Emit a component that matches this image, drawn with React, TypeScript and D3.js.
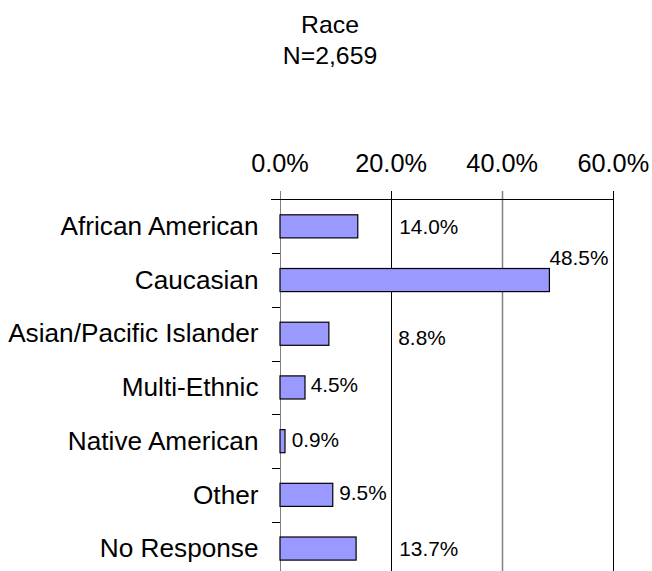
import React from "react";
import * as d3 from "d3";

const categories = [
  "African American",
  "Caucasian",
  "Asian/Pacific Islander",
  "Multi-Ethnic",
  "Native American",
  "Other",
  "No Response",
];
const values = [14.0, 48.5, 8.8, 4.5, 0.9, 9.5, 13.7];
const tickValues = [0, 20, 40, 60];
const titleLines = ["Race", "N=2,659"];

// label placement (px offset from bar end, baseline offset from band centre)
const labelDx = [41.5, 0, 69.4, 5.7, 6.7, 6.5, 43.2];
const labelDy = [7.7, -15.5, 11.3, 4.9, 6.2, 5.2, 7.5];

const W = 652;
const H = 571;
const FONT = "'Liberation Sans', Arial, Helvetica, sans-serif";

export default function App() {
  const x = d3.scaleLinear().domain([0, 60]).range([280, 613.3]);
  const y = d3
    .scaleBand<string>()
    .domain(categories)
    .range([199.5, 575.4])
    .paddingInner(0.57)
    .paddingOuter(0.285);
  const step = y.step();
  const top = 199.5;
  const bottom = 575.4;
  const gridColors = ["#808080", "#000", "#808080", "#000"];

  return (
    <svg
      width={W}
      height={H}
      style={{ position: "absolute", left: 0, top: 0, background: "#fff" }}
      fontFamily={FONT}
    >
      <rect x={0} y={0} width={W} height={H} fill="#fff" />
      {titleLines.map((t, i) => (
        <text
          key={t}
          x={330}
          y={32.5 + i * 31.5}
          textAnchor="middle"
          fontSize={24.8}
          fill="#000"
        >
          {t}
        </text>
      ))}
      {tickValues.map((v, i) => (
        <line
          key={v}
          x1={Math.round(x(v)) + 0.5}
          x2={Math.round(x(v)) + 0.5}
          y1={191}
          y2={bottom}
          stroke={gridColors[i]}
          strokeWidth={i === 2 ? 1.5 : 1}
        />
      ))}
      <line x1={271} x2={613.5} y1={top} y2={top} stroke="#000" strokeWidth={1} />
      {tickValues.map((v) => (
        <text
          key={"t" + v}
          x={x(v)}
          y={171.5}
          textAnchor="middle"
          fontSize={25.3}
          fill="#000"
        >
          {d3.format(".1f")(v) + "%"}
        </text>
      ))}
      {categories.slice(1).map((c) => {
        const yy = Math.round(y(c)! - y.paddingOuter() * step) + 0.5;
        return (
          <line key={"yt" + c} x1={272} x2={280} y1={yy} y2={yy} stroke="#000" strokeWidth={1} />
        );
      })}
      {categories.map((c, i) => {
        const yc = y(c)! + y.bandwidth() / 2;
        return (
          <g key={c}>
            <rect
              x={x(0)}
              y={y(c)!}
              width={x(values[i]) - x(0)}
              height={y.bandwidth()}
              fill="#9999FF"
              stroke="#000"
              strokeWidth={1.2}
            />
            <text
              x={258.5}
              y={yc + 8.7}
              textAnchor="end"
              fontSize={26.2}
              fill="#000"
            >
              {c}
            </text>
            <text
              x={x(values[i]) + labelDx[i]}
              y={yc + labelDy[i]}
              fontSize={20.8}
              fill="#000"
            >
              {d3.format(".1f")(values[i]) + "%"}
            </text>
          </g>
        );
      })}
    </svg>
  );
}
